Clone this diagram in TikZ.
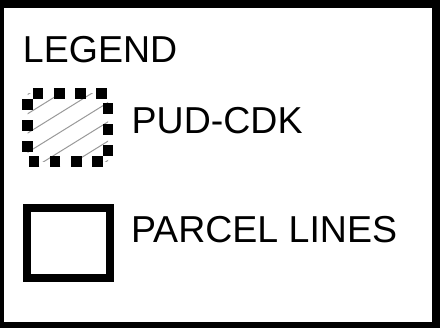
\documentclass[tikz,border=0pt]{standalone}
\usepackage{fontspec}
\setmainfont{Liberation Sans}
\begin{document}
\begin{tikzpicture}[x=1pt,y=-1pt,
  legendtext/.style={anchor=base west,inner sep=0pt,outer sep=0pt,font=\fontsize{37.5}{42}\selectfont},
  hatchline/.style={draw=black!40,line width=1pt},
  pudborder/.style={line width=10.6pt,dash pattern=on 10.6pt off 10.557pt,dash phase=15.88pt},
  parcelborder/.style={line width=8pt}]
\useasboundingbox (0,0) rectangle (444,327);
% outer frame
\draw[line width=8pt] (0,4) -- (436,4) -- (436,326) -- (0,326) -- cycle;
% title
\node[legendtext] (title) at (23,62.8) {LEGEND};
% PUD-CDK symbol: hatch
\begin{scope}
  \clip (27.5,93.7) rectangle (108,161.3);
  \foreach \c in {111.6,130.9,150.2,169.5,188.8,208.1,227.4}{
    \draw[hatchline] (10,{\c-0.62*10}) -- (125,{\c-0.62*125});
  }
\end{scope}
\draw[pudborder] (27.5,93.7) -- (108,93.7) -- (108,161.3) -- (27.5,161.3) -- cycle;
\node[legendtext] (pud) at (131.7,133.8) {PUD-CDK};
% parcel lines symbol
\draw[parcelborder] (26.5,207.5) rectangle (109.5,277.5);
\node[legendtext] (parcel) at (131,242.8) {PARCEL LINES};
\end{tikzpicture}
\end{document}
